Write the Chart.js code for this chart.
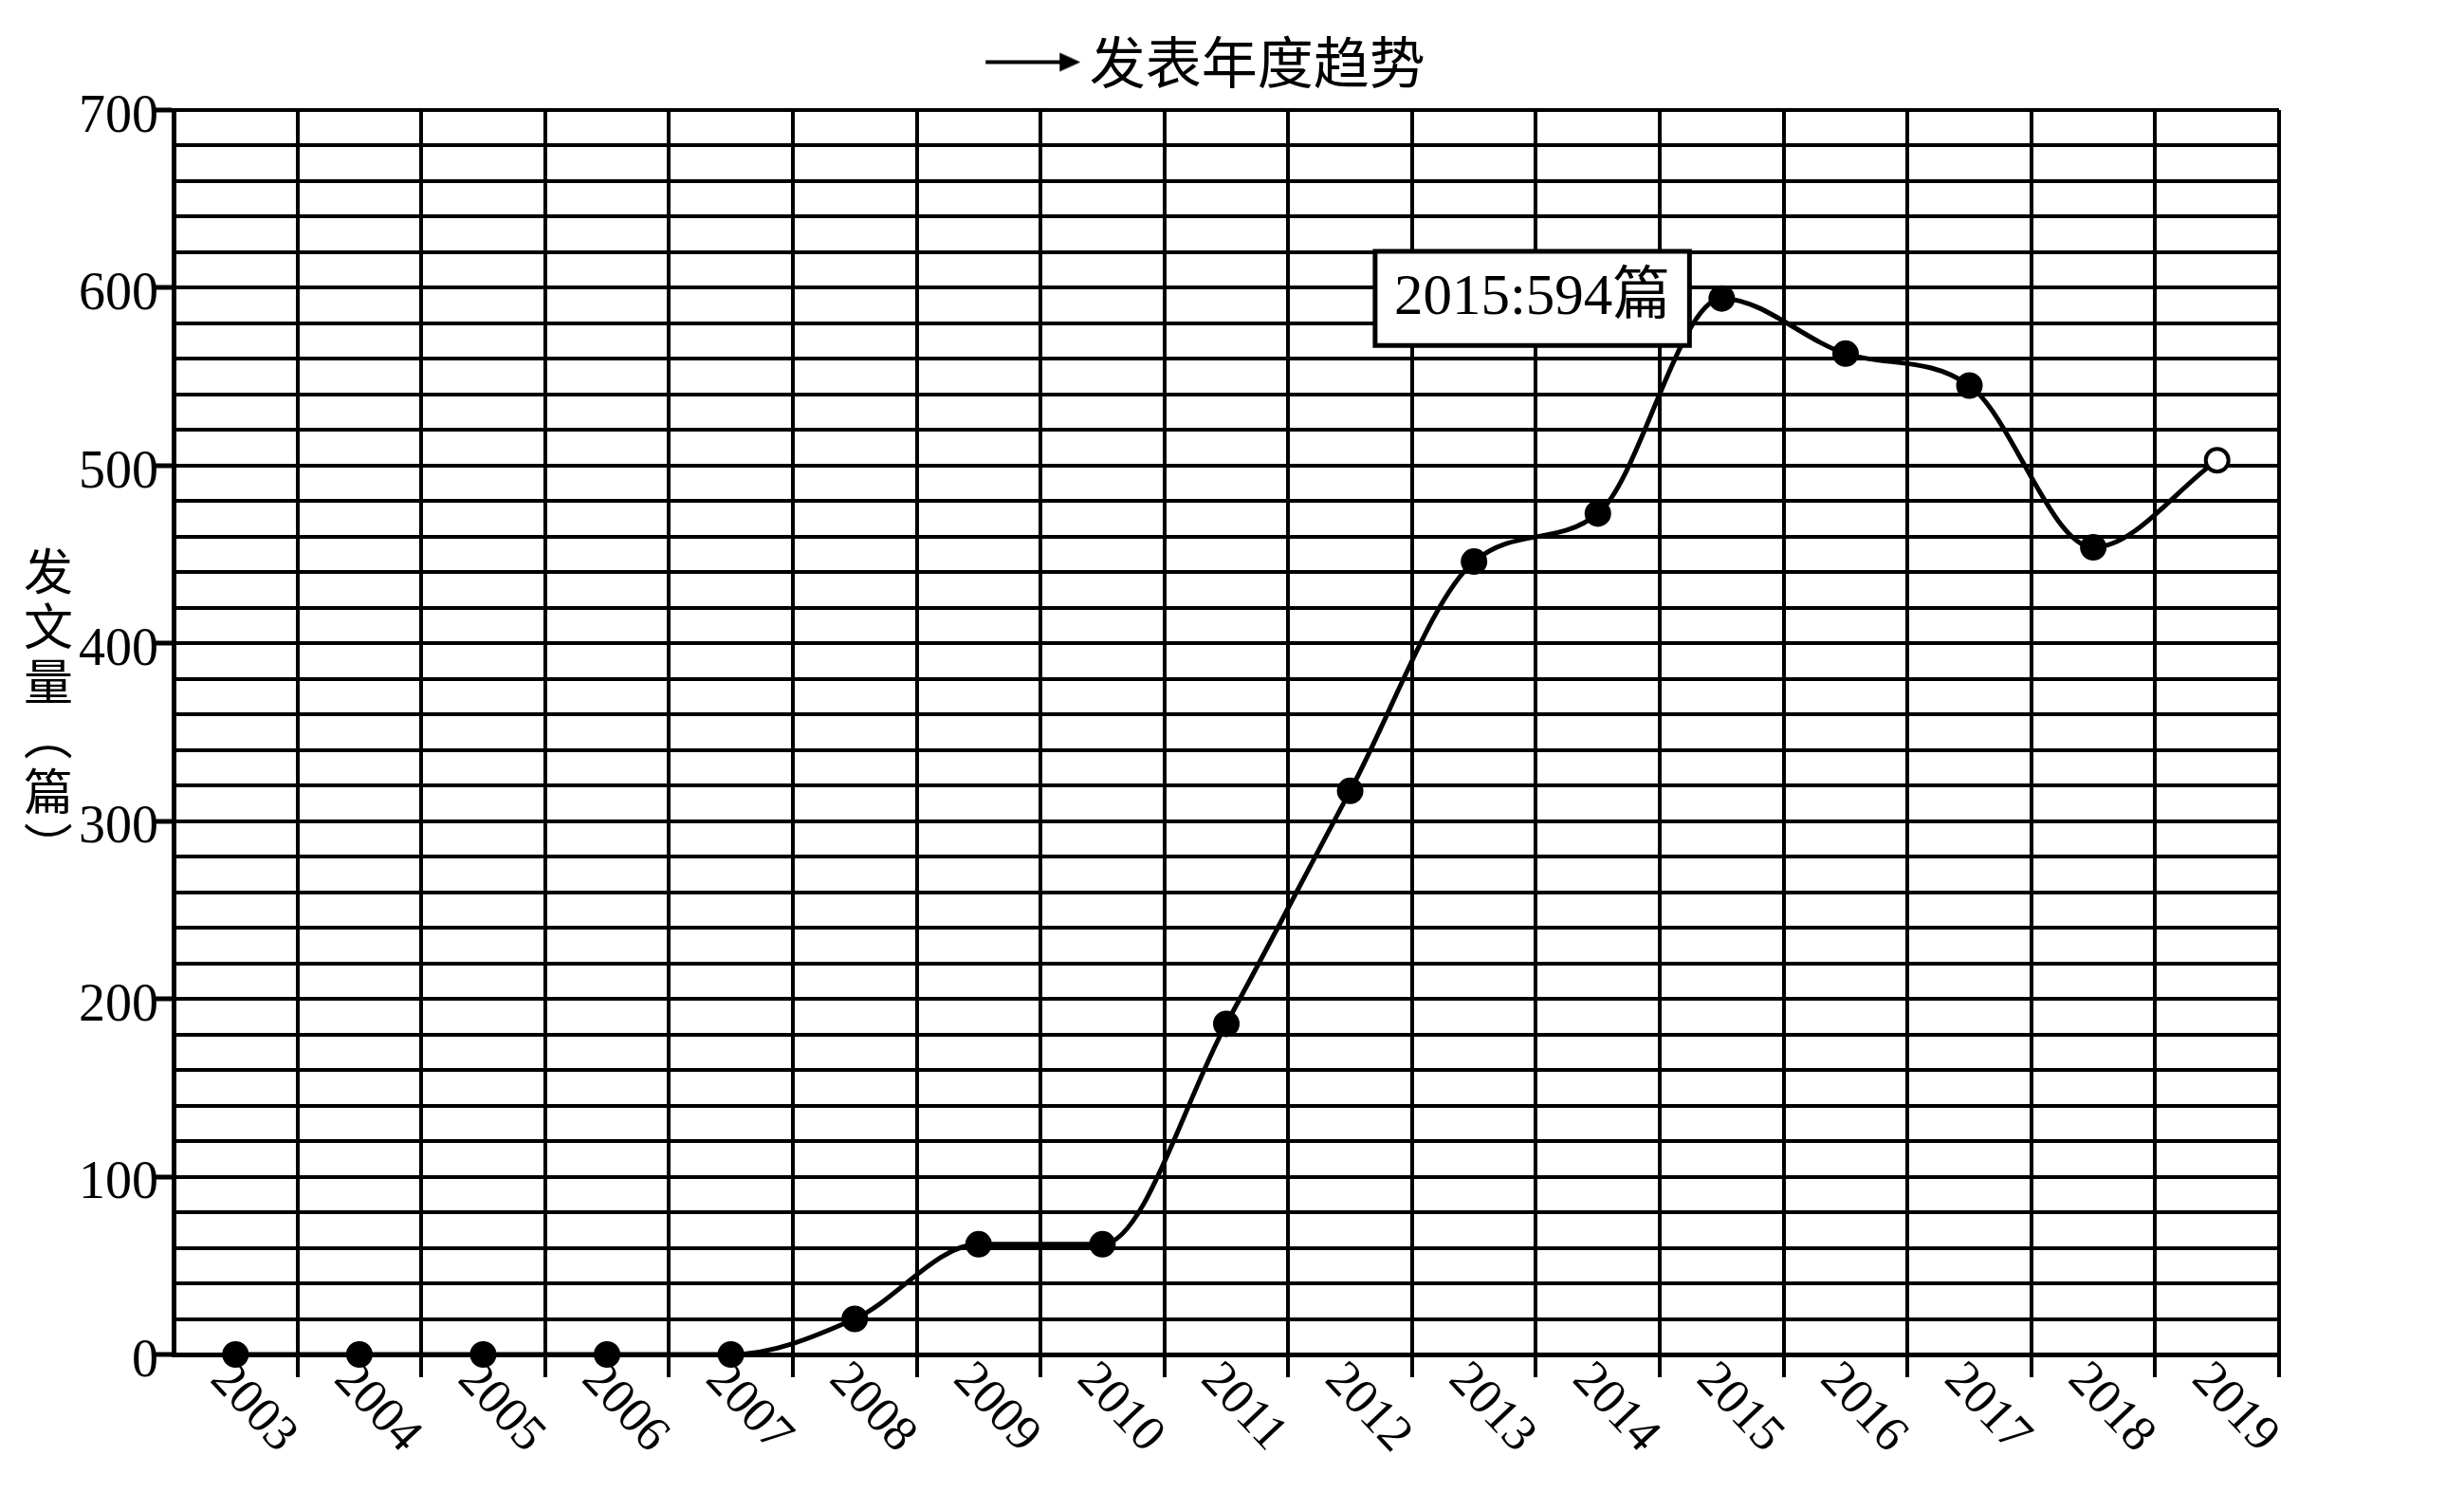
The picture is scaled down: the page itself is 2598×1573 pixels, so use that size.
<!DOCTYPE html>
<html>
<head>
<meta charset="utf-8">
<script src="https://cdn.jsdelivr.net/npm/chart.js@4.4.1/dist/chart.umd.min.js"></script>
<style>
  html, body { margin: 0; padding: 0; background: #fff; }
  #wrap { width: 2598px; height: 1573px; }
</style>
</head>
<body>
<div id="wrap"><canvas id="trend"></canvas></div>
<script>
const years = ['2003', '2004', '2005', '2006', '2007', '2008', '2009', '2010', '2011',
               '2012', '2013', '2014', '2015', '2016', '2017', '2018', '2019']
const counts = [0, 0, 0, 0, 0, 20, 62, 62, 186, 317, 446, 473, 594, 563, 545, 454, 503]
const yLabels = [0, 100, 200, 300, 400, 500, 600, 700]
const seriesName = '发表年度趋势'
const yTitle = '发文量（篇）'
const unit = '篇'
const highlightYear = '2015'

const serif = "'Liberation Serif', 'Noto Sans CJK SC', serif"
const cjk = "'Noto Sans CJK SC', sans-serif"

// legend marker: line with arrow head
const arrow = document.createElement('canvas')
arrow.width = 140
arrow.height = 22
{
    const a = arrow.getContext('2d')
    a.fillStyle = '#000'
    a.fillRect(40, 9, 80, 4)
    a.beginPath()
    a.moveTo(118, 1)
    a.lineTo(140, 11)
    a.lineTo(118, 21)
    a.closePath()
    a.fill()
}

// rotated year labels under the axis
const xLabelPlugin = {
    id: 'xLabels',
    afterDraw(chart){
        const { ctx } = chart
        const x = chart.scales.x
        ctx.save()
        ctx.font = '53px ' + serif
        ctx.fillStyle = '#000'
        ctx.textAlign = 'left'
        ctx.textBaseline = 'middle'
        years.forEach((lab, i) => {
            ctx.save()
            ctx.translate(x.getPixelForValue(i) - 18, x.top + 18)
            ctx.rotate(Math.PI * 0.26)
            ctx.fillText(lab, 0, 0)
            ctx.restore()
        })
        ctx.restore()
    }
}

// vertical, upright y axis title
const yTitlePlugin = {
    id: 'yTitle',
    afterDraw(chart){
        const { ctx } = chart
        ctx.save()
        ctx.font = '52px ' + cjk
        ctx.fillStyle = '#000'
        ctx.textAlign = 'center'
        ctx.textBaseline = 'middle'
        Array.from(yTitle).forEach((ch, i) => {
            ctx.save()
            ctx.translate(51, 602 + i * 58)
            if (ch === '（' || ch === '）') ctx.rotate(Math.PI / 2)
            ctx.fillText(ch, 0, 0)
            ctx.restore()
        })
        ctx.restore()
    }
}

const context = document.getElementById('trend').getContext('2d')
const chart = new Chart(context, {
    type: 'line',
    data: {
        labels: years,
        datasets: [
            {
                label: seriesName,
                data: counts,
                borderColor: '#000',
                borderWidth: 5,
                cubicInterpolationMode: 'monotone',
                fill: false,
                clip: false,
                pointRadius: 12,
                pointBorderWidth: 4,
                pointBorderColor: '#000',
                pointBackgroundColor: ctx => ctx.dataIndex === counts.length - 1 ? '#fff' : '#000',
            },
        ],
    },
    options: {
        responsive: true,
        maintainAspectRatio: false,
        animation: false,
        events: [],
        layout: {
            padding: { top: 14, right: 76, bottom: 0, left: 0 }
        },
        plugins: {
            legend: {
                display: true,
                labels: {
                    usePointStyle: true,
                    pointStyle: arrow,
                    pointStyleWidth: 100,
                    padding: 22,
                    color: '#000',
                    font: { family: cjk, size: 59 },
                }
            },
            tooltip: {
                enabled: true,
                backgroundColor: '#fff',
                borderColor: '#000',
                borderWidth: 5,
                cornerRadius: 0,
                caretSize: 0,
                caretPadding: 34,
                xAlign: 'right',
                yAlign: 'center',
                displayColors: false,
                padding: { x: 20, y: 13 },
                bodyColor: '#000',
                bodyFont: { family: serif, size: 61 },
                callbacks: {
                    title: () => '',
                    label: ctx => ctx.label + ':' + ctx.parsed.y + unit,
                }
            }
        },
        scales: {
            x: {
                offset: true,
                grid: {
                    offset: true,
                    color: '#000',
                    lineWidth: 4,
                    tickLength: 24,
                    tickWidth: 4,
                    tickColor: ctx => ctx.index === 0 ? 'rgba(0,0,0,0)' : '#000',
                },
                border: { color: '#000', width: 5 },
                ticks: { display: false },
                afterFit: s => { s.height = 145 },
            },
            y: {
                min: 0,
                max: 700,
                grid: {
                    color: '#000',
                    lineWidth: 4,
                    tickLength: 20,
                    tickWidth: 5,
                    tickColor: ctx => ctx.tick && yLabels.includes(ctx.tick.value) ? '#000' : 'rgba(0,0,0,0)',
                },
                border: { color: '#000', width: 5 },
                ticks: {
                    stepSize: 20,
                    autoSkip: false,
                    padding: -4,
                    labelOffset: 8,
                    color: '#000',
                    font: { family: serif, size: 56 },
                    callback: v => yLabels.includes(v) ? v : '',
                },
                afterFit: s => { s.width = 183 },
            },
            // empty gutters: right one keeps the legend centred like the original,
            // top one leaves the gap between legend and plot
            gutterR: {
                type: 'linear',
                position: 'right',
                grid: { display: false },
                border: { display: false },
                ticks: { display: false },
                afterFit: s => { s.width = 119 },
            },
            gutterT: {
                type: 'linear',
                position: 'top',
                grid: { display: false },
                border: { display: false },
                ticks: { display: false },
                afterFit: s => { s.height = 11 },
            },
        },
    },
    plugins: [xLabelPlugin, yTitlePlugin],
})

const hi = years.indexOf(highlightYear)
chart.tooltip.setActiveElements([{ datasetIndex: 0, index: hi }], { x: 0, y: 0 })
chart.update()
</script>
</body>
</html>
